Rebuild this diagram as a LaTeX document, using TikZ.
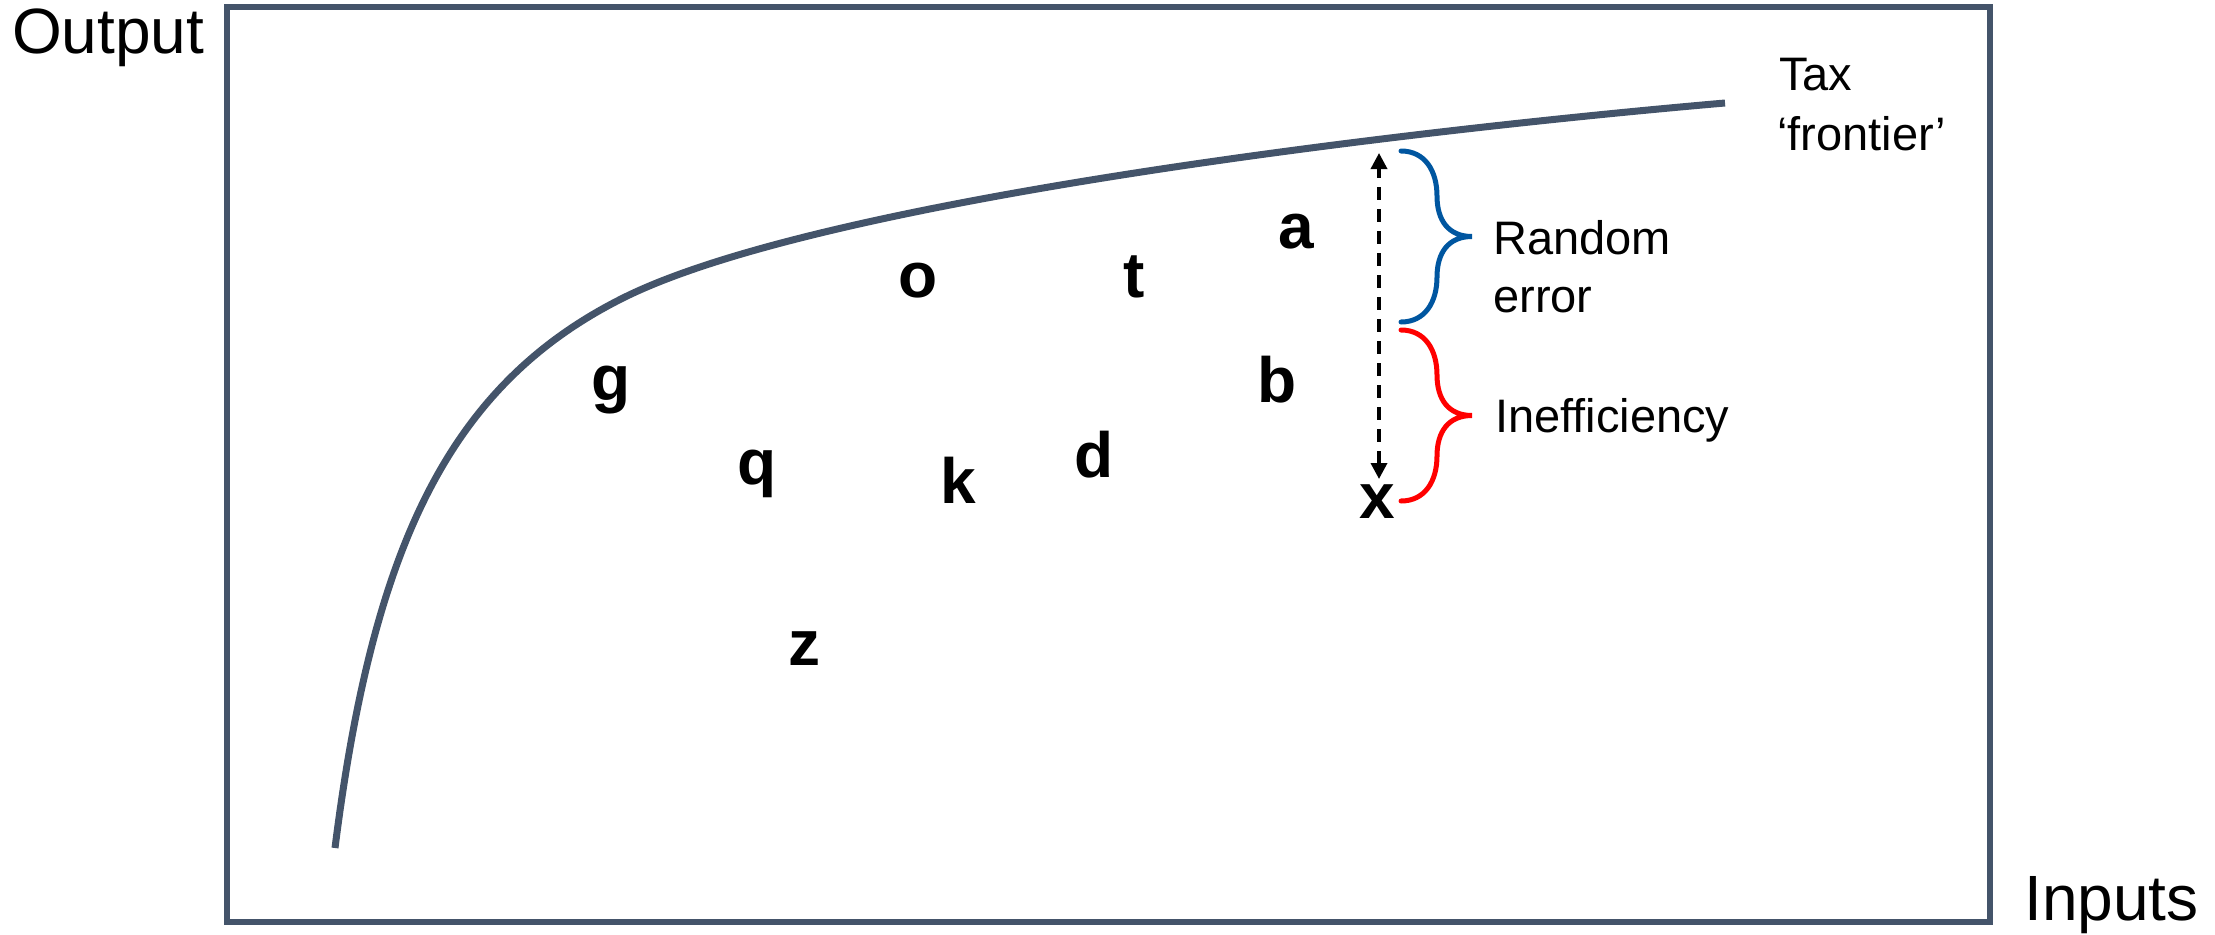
\documentclass[tikz,border=0pt]{standalone}
\usepackage{fontspec}
\setmainfont{Liberation Sans}
\usetikzlibrary{arrows.meta}
\definecolor{slate}{RGB}{68,84,106}
\definecolor{braceblue}{RGB}{0,86,160}
\definecolor{bracered}{RGB}{255,0,0}
\tikzset{
  plotframe/.style={draw=slate, line width=5.5pt},
  frontierline/.style={draw=slate, line width=7pt},
  firm/.style={font=\fontsize{64}{64}\selectfont\bfseries, inner sep=0pt, anchor=base},
  axislabel/.style={font=\fontsize{64}{64}\selectfont, inner sep=0pt, anchor=base west},
  notetext/.style={font=\fontsize{47}{58}\selectfont, inner sep=0pt, anchor=base west},
  gaparrow/.style={draw=black, dash pattern=on 13pt off 9pt, line width=3.5pt,
    {Triangle[length=16pt,width=16pt]}-{Triangle[length=16pt,width=16pt]}},
  curly/.style={line width=5pt, line cap=round},
  curlybrace/.pic={
    \draw[pic actions] (0,0) .. controls (24,0) and (36,20) .. (36,45)
      .. controls (36,70) and (48,85.5) .. (71,85.5)
      .. controls (48,85.5) and (36,101) .. (36,126)
      .. controls (36,151) and (24,171) .. (0,171);
  }
}
\begin{document}
\begin{tikzpicture}[x=1pt, y=-1pt]
\useasboundingbox (0,0) rectangle (2215,934);
% frame
\draw[plotframe] (227,7) rectangle (1990,922);
% axis labels
\node[axislabel] (lblout) at (12,53) {Output};
\node[axislabel] (lblin) at (2024,920) {Inputs};
% frontier
\draw[frontierline] (335,848) .. controls (372.8,548) and (448,385.5) .. (623,298)
  .. controls (823,198) and (1425,129) .. (1725,103);
\node[notetext] (taxa) at (1779,90) {Tax};
\node[notetext] (taxb) at (1777,150) {‘frontier’};
% firms
\node[firm] (fa) at (1296,248) {a};
\node[firm] (fo) at (918,297) {o};
\node[firm] (ft) at (1134,297) {t};
\node[firm] (fg) at (611,400) {g};
\node[firm] (fb) at (1277,402) {b};
\node[firm] (fq) at (757,484) {q};
\node[firm] (fk) at (958,503) {k};
\node[firm] (fd) at (1094,477) {d};
\node[firm] (fx) at (1377,518) {x};
\node[firm] (fz) at (804,665) {z};
% gap arrow
\coordinate (errtop) at (1379,153);
\coordinate (errbot) at (1379,479);
\draw[gaparrow] (errbot) -- (errtop);
% braces
\pic[draw=braceblue, curly] at (1401,151) {curlybrace};
\pic[draw=bracered, curly] at (1401,330) {curlybrace};
\node[notetext] (rnda) at (1493,254) {Random};
\node[notetext] (rndb) at (1493,312) {error};
\node[notetext] (ineff) at (1495,432) {Inefficiency};
\end{tikzpicture}
\end{document}
